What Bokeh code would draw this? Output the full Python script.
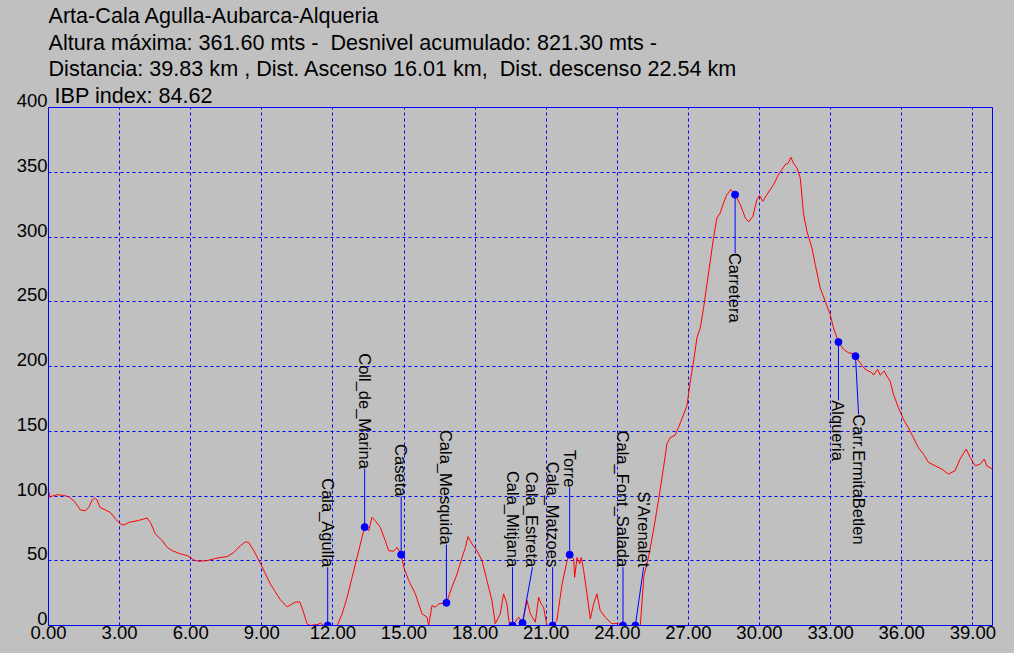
import math
from bokeh.plotting import figure
from bokeh.models import (FixedTicker, PrintfTickFormatter, Title, Range1d,
                          GlobalInlineStyleSheet)
from bokeh.core.properties import value
from bokeh.embed import file_html
from bokeh.resources import INLINE

# ---------------- data ----------------
title_lines = [
    "Arta-Cala Agulla-Aubarca-Alqueria",
    "Altura máxima: 361.60 mts -  Desnivel acumulado: 821.30 mts -",
    "Distancia: 39.83 km , Dist. Ascenso 16.01 km,  Dist. descenso 22.54 km",
    " IBP index: 84.62",
]

x_ticks = [0, 3, 6, 9, 12, 15, 18, 21, 24, 27, 30, 33, 36, 39]
y_ticks = [0, 50, 100, 150, 200, 250, 300, 350, 400]

profile_km = [
    0.00, 0.02, 0.05, 0.16, 0.37, 0.65, 0.86, 1.07, 1.35, 1.56, 1.70, 1.84, 1.94,
    2.05, 2.17, 2.40, 2.61, 2.83, 3.04, 3.18, 3.39, 3.74, 4.02, 4.16, 4.30, 4.51,
    4.80, 5.01, 5.22, 5.57, 5.85, 6.13, 6.34, 6.69, 6.97, 7.25, 7.54, 7.82, 8.10,
    8.31, 8.45, 8.66, 8.94, 9.15, 9.36, 9.57, 9.78, 10.07, 10.28, 10.42, 10.60,
    10.72, 10.91, 11.05, 11.40, 11.47, 11.61, 11.78, 12.18, 12.39, 12.60, 12.81,
    13.02, 13.23, 13.34, 13.51, 13.65, 13.79, 14.00, 14.21, 14.35, 14.56, 14.71,
    14.88, 14.99, 15.20, 15.48, 15.76, 15.97, 16.04, 16.18, 16.32, 16.46, 16.79,
    17.02, 17.24, 17.45, 17.59, 17.70, 17.87, 18.08, 18.29, 18.50, 18.71, 18.85,
    19.06, 19.20, 19.34, 19.45, 19.58, 19.84, 20.00, 20.19, 20.33, 20.54, 20.68,
    20.78, 20.89, 21.03, 21.27, 21.45, 21.67, 21.88, 21.99, 22.16, 22.20, 22.30,
    22.41, 22.48, 22.58, 22.72, 22.86, 23.00, 23.14, 23.28, 23.49, 23.77, 24.05,
    24.24, 24.76, 24.97, 25.12, 25.32, 25.53, 25.74, 25.95, 26.09, 26.23, 26.44,
    26.58, 26.80, 26.94, 27.08, 27.22, 27.36, 27.50, 27.64, 27.78, 27.92, 28.06,
    28.20, 28.34, 28.48, 28.62, 28.79, 28.97, 29.19, 29.40, 29.54, 29.72, 29.89,
    30.00, 30.14, 30.31, 30.59, 30.80, 31.08, 31.22, 31.32, 31.43, 31.58, 31.72,
    31.86, 32.00, 32.21, 32.35, 32.56, 32.77, 32.98, 33.12, 33.33, 33.54, 33.75,
    33.96, 34.05, 34.24, 34.46, 34.60, 34.74, 34.81, 34.98, 35.09, 35.26, 35.37,
    35.51, 35.65, 35.86, 36.07, 36.28, 36.49, 36.70, 36.92, 37.13, 37.41, 37.69,
    37.97, 38.25, 38.46, 38.72, 38.89, 39.10, 39.31, 39.48, 39.59, 39.83,
]
profile_elev = [
    99.0, 102.7, 99.0, 100.0, 101.0, 100.4, 99.4, 96.3, 89.2, 88.6, 91.2, 96.9, 98.4,
    96.9, 91.2, 89.2, 87.3, 82.2, 78.4, 77.6, 79.6, 80.9, 82.2, 83.0, 79.6, 70.7,
    65.5, 60.3, 57.8, 55.3, 54.0, 50.6, 49.6, 50.1, 51.4, 52.5, 53.2, 56.5, 61.7,
    64.6, 64.0, 57.8, 48.0, 40.0, 32.1, 26.0, 20.0, 14.3, 16.7, 18.0, 18.3,
    12.5, 1.3, 0.0, 1.0, 2.0, 0.0, 0.0, 0.0, 9.0, 21.8, 37.2,
    52.6, 68.1, 76.0, 73.2, 83.5, 80.9, 75.8, 65.5, 57.8, 57.3, 60.3,
    54.7, 44.9, 34.7, 24.4, 9.0, 6.4, 0.0, 15.4, 14.1, 16.7, 17.5,
    29.5, 39.8, 52.6, 60.3, 68.6, 63.0, 57.8, 50.1, 34.7, 19.3, 1.3,
    9.0, 24.4, 16.7, 0.0, 0.0, 6.4, 2.0, 19.3, 9.0, 2.6, 21.8,
    16.7, 14.1, 0.0, 0.0, 3.9, 32.1, 50.1, 54.7, 51.4, 37.2, 52.6,
    47.6, 52.6, 42.4, 24.4, 5.1, 16.7, 24.4, 11.6, 6.4, 1.3, 1.7,
    0.0, 0.0, 0.0, 38.0, 53.0, 74.0, 97.0, 122.0, 140.0, 145.1, 147.0,
    152.8, 163.2, 170.0, 188.8, 204.2, 222.2, 229.9, 245.3, 263.4, 281.3, 299.3,
    314.7, 318.5, 326.2, 332.7, 336.6, 332.7, 325.0, 314.7, 311.6, 316.0, 328.9,
    332.2, 327.6, 332.7, 340.4, 348.1, 355.8, 357.1, 361.6, 357.1, 353.2, 345.5,
    317.3, 304.4, 291.6, 278.8, 260.7, 250.5, 240.2, 229.9, 218.9, 213.3, 210.6,
    209.9, 208.0, 202.9, 197.8, 196.5, 195.2, 193.4, 197.8, 193.4, 196.5, 192.7,
    188.8, 178.6, 168.2, 159.3, 152.8, 145.1, 137.4, 132.3, 125.9, 123.3, 120.8,
    116.9, 119.5, 128.5, 136.2, 129.7, 123.3, 124.6, 128.5, 123.3, 120.8,
]

wp_names = ["Cala_Agulla", "Coll_de_Marina", "Caseta", "Cala_Mesquida",
            "Cala_Mitjana", "Cala_Estreta", "Cala_Matzoes", "Torre",
            "Cala_Font_Salada", "S'Arenalet", "Carretera", "Alqueria",
            "Carr.ErmitaBetlen"]
wp_km = [11.78, 13.34, 14.88, 16.79, 19.58, 20.00, 21.27, 21.99,
         24.24, 24.76, 28.97, 33.33, 34.05]
wp_elev = [0.0, 76.0, 54.7, 17.5, 0.0, 2.0, 0.0, 54.7,
           0.0, 0.0, 332.7, 218.9, 208.0]

# label leader layout (metres up/down, km sideways)
wp_label_dy = [45, 45, 45, 45, 45, 43, 45, 52, 45, 45, -45, -45, -45]
wp_label_dx = [0, 0, 0, 0, 0, 0.42, 0, 0, 0, 0.35, 0, 0, 0.13]

# ---------------- style ----------------
BG = "#c0c0c0"
BLUE = "#0000ff"
RED = "#ff0000"
FONT = "Liberation Sans"
TICK_SIZE = "18.5px"
HEAD_SIZE = "21.6px"

p = figure(width=1014, height=653, output_backend="svg", toolbar_location=None,
           x_range=Range1d(0, 39.83), y_range=Range1d(0, 400),
           min_border_left=48, min_border_right=22, min_border_top=106,
           min_border_bottom=28,
           background_fill_color=BG, border_fill_color=BG,
           outline_line_color=BLUE, outline_line_width=1)
p.title = None

p.stylesheets = [GlobalInlineStyleSheet(css="html, body { background: #c0c0c0; }")]

# grid
for g, t in ((p.xgrid, x_ticks), (p.ygrid, y_ticks)):
    g.ticker = FixedTicker(ticks=t)
    g.grid_line_color = BLUE
    g.grid_line_dash = "3 3"
    g.grid_line_width = 1

# axes
p.xaxis.ticker = FixedTicker(ticks=x_ticks)
p.xaxis.formatter = PrintfTickFormatter(format="%.2f")
p.yaxis.ticker = FixedTicker(ticks=y_ticks)
for ax in (p.xaxis, p.yaxis):
    ax.axis_line_color = BLUE
    ax.axis_line_width = 1
    ax.major_tick_out = 0
    ax.major_tick_in = 0
    ax.minor_tick_out = 0
    ax.minor_tick_in = 0
    ax.major_label_text_font = FONT
    ax.major_label_text_font_size = TICK_SIZE
    ax.major_label_text_color = "#000000"
    ax.major_label_standoff = 0
p.yaxis.major_label_standoff = 1
# y labels sit on their grid line (baseline at the tick): add an empty 2nd line
p.yaxis.major_label_overrides = {t: f"{t}\n" for t in y_ticks}
p.yaxis.major_label_text_line_height = 0.66

# elevation profile
p.line(profile_km, profile_elev, line_color=RED, line_width=1)

# waypoint leaders, dots and labels
lx = [k + dx for k, dx in zip(wp_km, wp_label_dx)]
ly = [e + dy for e, dy in zip(wp_elev, wp_label_dy)]
p.segment(x0=wp_km, y0=wp_elev, x1=lx, y1=ly, line_color=BLUE, line_width=1)
p.scatter(wp_km, wp_elev, size=7, fill_color=BLUE, line_color=BLUE)

up = [i for i, d in enumerate(wp_label_dy) if d > 0]
dn = [i for i, d in enumerate(wp_label_dy) if d < 0]
p.text(x=[lx[i] for i in up], y=[ly[i] for i in up], text=[wp_names[i] for i in up],
       angle=-math.pi / 2, text_align="right", text_baseline="alphabetic",
       text_font=value(FONT), text_font_size="16.5px", text_color="#000000")
p.text(x=[lx[i] for i in dn], y=[ly[i] for i in dn], text=[wp_names[i] for i in dn],
       angle=-math.pi / 2, text_align="left", text_baseline="alphabetic",
       text_font=value(FONT), text_font_size="16.5px", text_color="#000000")

# header text (one multi-line title; keep repeated/leading spaces visible)
head = "\n".join(t.replace("  ", " \u00a0") for t in title_lines)
head = head.replace("\n ", "\n\u00a0")
p.add_layout(Title(text=head, align="left", offset=0, standoff=0,
                   text_font=FONT, text_font_size=HEAD_SIZE,
                   text_line_height=1.06,
                   text_font_style="normal", text_color="#000000"), "above")

open("out.html", "w").write(file_html(p, INLINE))
